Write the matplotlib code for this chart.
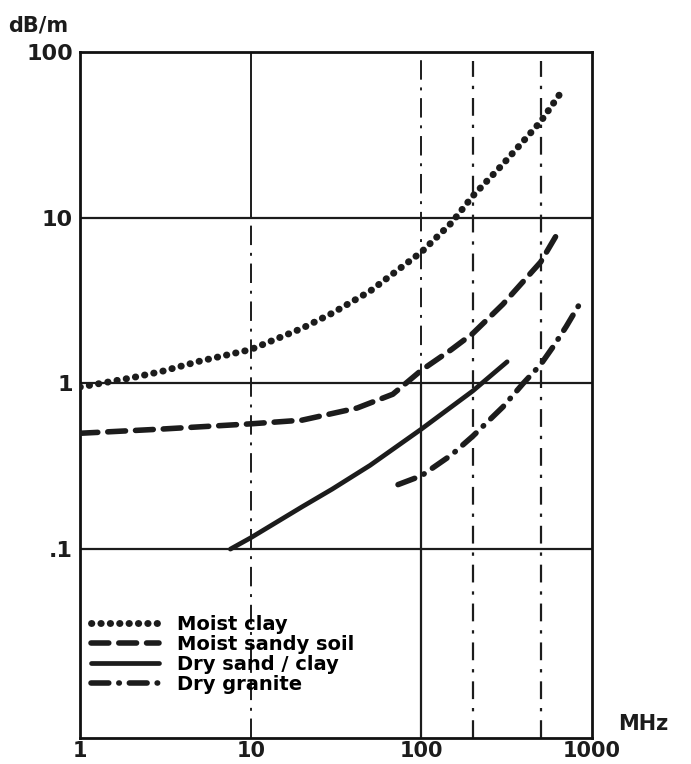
import matplotlib
matplotlib.use("Agg")
import matplotlib.pyplot as plt

# values (MHz, dB/m)
clay_f = [1, 2, 3, 5, 10, 20, 30, 50, 100, 150, 200, 300, 500, 650]
clay_a = [0.95, 1.08, 1.18, 1.36, 1.6, 2.15, 2.65, 3.6, 6.2, 9.3, 13.5, 21, 38, 56]

sandy_f = [1, 3, 10, 20, 42, 68, 81, 100, 150, 200, 300, 500, 617]
sandy_a = [0.5, 0.53, 0.57, 0.6, 0.71, 0.86, 1.0, 1.2, 1.6, 2.0, 3.0, 5.4, 7.8]

dry_f = [7.6, 10, 20, 30, 50, 100, 200, 318]
dry_a = [0.1, 0.117, 0.18, 0.23, 0.32, 0.53, 0.9, 1.35]

granite_f = [73, 100, 150, 200, 300, 395, 500, 600, 705, 875]
granite_a = [0.245, 0.277, 0.37, 0.48, 0.72, 1.0, 1.3, 1.7, 2.2, 3.2]

labels = ["Moist clay", "Moist sandy soil", "Dry sand / clay", "Dry granite"]
x_ticks = [1, 10, 100, 1000]
x_ticklabels = ["1", "10", "100", "1000"]
y_ticks = [0.1, 1, 10, 100]
y_ticklabels = [".1", "1", "10", "100"]
hgrid = [0.1, 1, 10]
marker_freqs = [200, 500]   # dash-dot frequency markers

plt.rcParams['font.family'] = ['DejaVu Sans']
plt.rcParams['font.weight'] = 'bold'

fig = plt.figure(figsize=(6.91, 7.64), dpi=100)
ax = fig.add_axes([0.1158, 0.034, 0.741, 0.898])
ax.set_xscale('log')
ax.set_yscale('log')
ax.set_xlim(1, 1000)
ax.set_ylim(10 ** -2.14, 100)

for s in ax.spines.values():
    s.set_linewidth(2)
    s.set_color('#111111')

ink = '#1c1c1c'
dashdot_grid = (0, (10, 4, 1.5, 4))

# grid, drawn piecewise like the original
for g in hgrid:
    ax.axhline(g, color=ink, lw=1.6, zorder=1)
ax.vlines(10, 10, 100, color=ink, lw=1.4, zorder=1)
ax.vlines(10, 10 ** -2.14, 10, color=ink, lw=1.4, linestyles=dashdot_grid, zorder=1)
ax.vlines(100, 1, 100, color=ink, lw=1.4, linestyles=dashdot_grid, zorder=1)
ax.vlines(100, 10 ** -2.14, 1, color=ink, lw=1.6, zorder=1)
for f in marker_freqs:
    ax.vlines(f, 10 ** -2.14, 88, color=ink, lw=1.6,
              linestyles=(0, (8, 4, 1.5, 4)), zorder=1)

# curves
ax.plot(clay_f, clay_a, color=ink, lw=5, linestyle=(0, (0.05, 1.3)),
        dash_capstyle='round', label=labels[0], zorder=3)
ax.plot(sandy_f, sandy_a, color=ink, lw=4, linestyle=(0, (3.2, 1.8)),
        dash_capstyle='round', label=labels[1], zorder=3)
ax.plot(dry_f, dry_a, color=ink, lw=3.4, solid_capstyle='round',
        label=labels[2], zorder=3)
ax.plot(granite_f, granite_a, color=ink, lw=4, linestyle=(0, (3.2, 1.8, 0.1, 1.8)),
        dash_capstyle='round', label=labels[3], zorder=3)

ax.set_xticks(x_ticks)
ax.set_xticklabels(x_ticklabels)
ax.set_yticks(y_ticks)
ax.set_yticklabels(y_ticklabels)
ax.minorticks_off()
ax.tick_params(length=0, labelsize=16, colors=ink)
ax.tick_params(axis='x', pad=2, labelsize=15)
ax.tick_params(axis='y', pad=5)
for t in ax.get_xticklabels() + ax.get_yticklabels():
    t.set_fontweight('bold')

ax.legend(loc='upper left', bbox_to_anchor=(0.022, 0.18), frameon=False,
          borderpad=0, borderaxespad=0, handlelength=3.5, handletextpad=0.9,
          labelspacing=0.06, prop={'weight': 'bold', 'size': 14})

fig.text(0.012, 0.967, "dB/m", fontsize=15, fontweight='bold', va='center', color=ink)
fig.text(0.895, 0.052, "MHz", fontsize=15, fontweight='bold', va='center', color=ink)

fig.savefig("out.png", dpi=100)
